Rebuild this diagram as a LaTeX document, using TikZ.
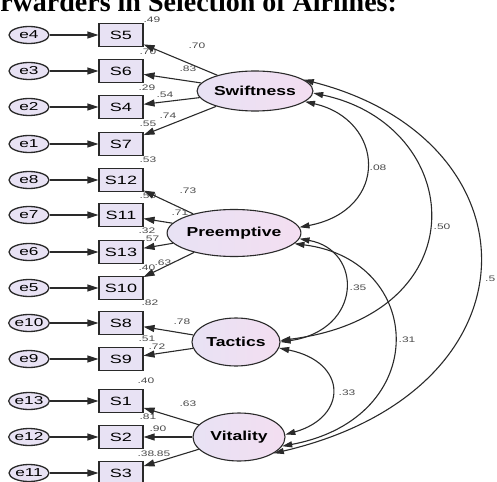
\documentclass[tikz,border=0pt]{standalone}
\usepackage{fontspec}
\setmainfont{Liberation Sans}
\newfontfamily\titlefont{Liberation Serif}
\usepackage{graphicx}
\usetikzlibrary{arrows.meta,shapes.geometric}
\definecolor{lav}{HTML}{E8E2F4}
\definecolor{pinkl}{HTML}{F3DEF1}
\definecolor{ln}{HTML}{2A2A2A}
\newcommand{\hs}[2]{\scalebox{#1}[1]{#2}}
\begin{document}
\begin{tikzpicture}[x=1pt,y=-1pt,
 err/.style={ellipse, draw=ln, line width=1.3pt, fill=lav, minimum width=40pt, minimum height=17pt, inner sep=0pt, font=\fontsize{11.5}{12}\selectfont},
 obs/.style={rectangle, draw=ln, line width=1.1pt, fill=lav, minimum width=44pt, minimum height=23pt, inner sep=0pt, font=\fontsize{12}{13}\selectfont},
 lat/.style={ellipse, draw=ln, line width=1.1pt, left color=lav, right color=pinkl, inner sep=0pt, font=\bfseries\fontsize{13}{15}\selectfont},
 lab/.style={font=\fontsize{8}{9}\selectfont, text=ln!85, inner sep=0pt},
 arr/.style={draw=ln, line width=1.1pt, -{Triangle[length=11pt,width=7pt]}},
 cov/.style={draw=ln, line width=1.1pt, {Triangle[length=10pt,width=6pt]}-{Triangle[length=10pt,width=6pt]}},
]
\useasboundingbox (0,0) rectangle (497,481);
\clip (0,0) rectangle (497,481);
\node[anchor=base west, inner sep=0pt, font=\titlefont\bfseries\fontsize{28}{30}\selectfont] (title) at (-31,12) {\raisebox{0pt}[\height][0pt]{Forwarders in Selection of Airlines:}};

\foreach \e/\s/\y in {e4/S5/35, e3/S6/71, e2/S4/107, e1/S7/144, e8/S12/180, e7/S11/215, e6/S13/252, e5/S10/288, e10/S8/323, e9/S9/359, e13/S1/401, e12/S2/437, e11/S3/473}{
  \node[err] (\e) at (29,\y) {\hs{1.5}{\e}};
  \node[obs] (\s) at (121,\y) {\hs{1.5}{\s}};
  \draw[arr] (\e) -- (\s);
}
\node[lab] (rS5) at (152,19.5) {\hs{1.5}{.49}};
\node[lab] (rS6) at (148,52) {\hs{1.5}{.70}};
\node[lab] (rS4) at (147,88) {\hs{1.5}{.29}};
\node[lab] (rS7) at (148,124) {\hs{1.5}{.55}};
\node[lab] (rS12) at (148,160) {\hs{1.5}{.53}};
\node[lab] (rS11) at (148,196) {\hs{1.5}{.50}};
\node[lab] (rS13) at (147,231) {\hs{1.5}{.32}};
\node[lab] (rS10) at (147,268) {\hs{1.5}{.40}};
\node[lab] (rS8) at (150,303) {\hs{1.5}{.82}};
\node[lab] (rS9) at (147,339) {\hs{1.5}{.51}};
\node[lab] (rS1) at (146,381) {\hs{1.5}{.40}};
\node[lab] (rS2) at (148,417) {\hs{1.5}{.81}};
\node[lab] (rS3) at (146,454) {\hs{1.5}{.38}};

\node[lat, minimum width=86pt, minimum height=40pt] (sw) at (255,91) {\hs{1.35}{Swiftness}};
\node[lat, minimum width=88pt, minimum height=47pt] (pr) at (234,233) {\hs{1.35}{Preemptive}};
\node[lat, minimum width=88pt, minimum height=48pt] (ta) at (236,342) {\hs{1.35}{Tactics}};
\node[lat, minimum width=92pt, minimum height=48pt] (vi) at (239,437) {\hs{1.35}{Vitality}};

\draw[arr] (sw) -- (S5);
\draw[arr] (sw) -- (S6);
\draw[arr] (sw) -- (S4);
\draw[arr] (sw) -- (S7);
\draw[arr] (pr) -- (S12);
\draw[arr] (pr) -- (S11);
\draw[arr] (pr) -- (S13);
\draw[arr] (pr) -- (S10);
\draw[arr] (ta) -- (S8);
\draw[arr] (ta) -- (S9);
\draw[arr] (vi) -- (S1);
\draw[arr] (vi) -- (S2);
\draw[arr] (vi) -- (S3);

\node[lab] (l1) at (197,46) {\hs{1.5}{.70}};
\node[lab] (l2) at (188,69) {\hs{1.5}{.83}};
\node[lab] (l3) at (165,95) {\hs{1.5}{.54}};
\node[lab] (l4) at (168,116) {\hs{1.5}{.74}};
\node[lab] (l5) at (188,191) {\hs{1.5}{.73}};
\node[lab] (l6) at (180,213) {\hs{1.5}{.71}};
\node[lab] (l7) at (151,239) {\hs{1.5}{.57}};
\node[lab] (l8) at (163,263) {\hs{1.5}{.63}};
\node[lab] (l9) at (182,322) {\hs{1.5}{.78}};
\node[lab] (l10) at (157,347) {\hs{1.5}{.72}};
\node[lab] (l11) at (188,404) {\hs{1.5}{.63}};
\node[lab] (l12) at (158,429) {\hs{1.5}{.90}};
\node[lab] (l13) at (162,454) {\hs{1.5}{.85}};

% covariances
\draw[cov] (sw.13) .. controls (540,140) and (545,390) .. (vi.-25);
\draw[cov] (sw.-2) .. controls (465,125) and (482,315) .. (ta.2);
\draw[cov] (sw.-12) .. controls (385,120) and (390,210) .. (pr.5);
\draw[cov] (pr.-5) .. controls (363,250) and (363,330) .. (ta.0);
\draw[cov] (pr.-10) .. controls (425,260) and (433,418) .. (vi.-12);
\draw[cov] (ta.-8) .. controls (348,362) and (348,417) .. (vi.3);

\node[lab] (c1) at (378,168) {\hs{1.5}{.08}};
\node[lab] (c2) at (442,227) {\hs{1.5}{.50}};
\node[lab] (c3) at (358,288) {\hs{1.5}{.35}};
\node[lab] (c4) at (407,340) {\hs{1.5}{.31}};
\node[lab] (c5) at (347,393) {\hs{1.5}{.33}};
\node[lab, anchor=west] (c6) at (485,279) {\hs{1.5}{.5}};
\end{tikzpicture}
\end{document}
